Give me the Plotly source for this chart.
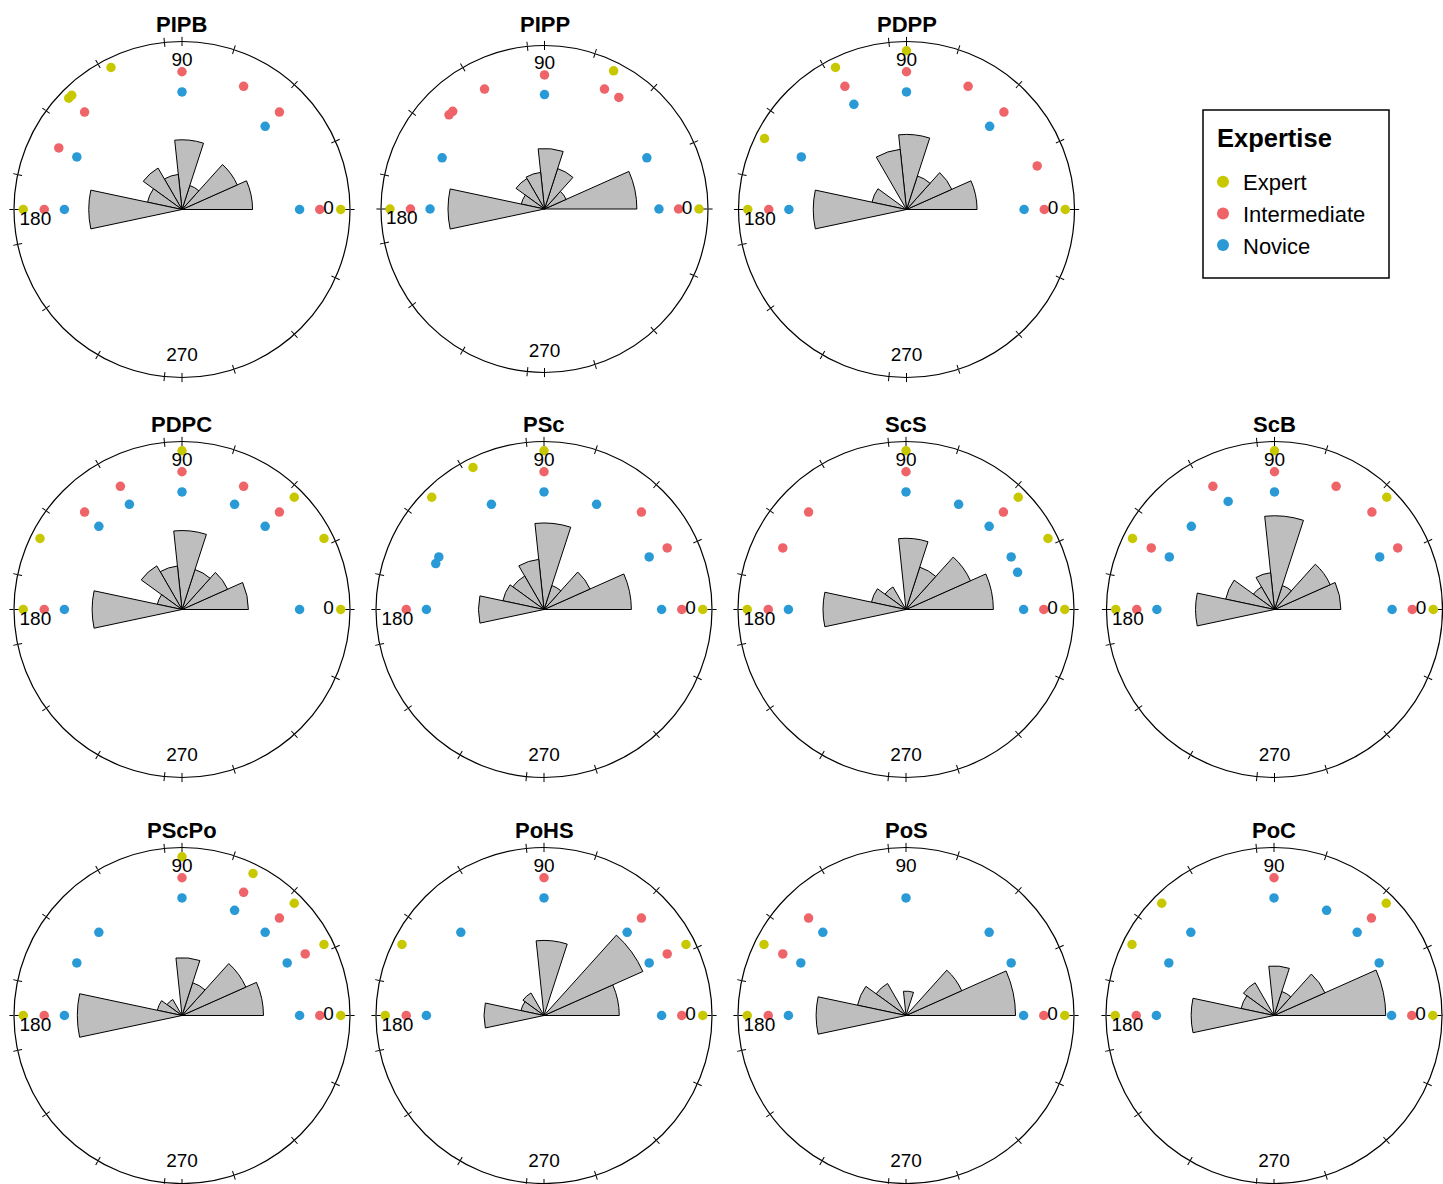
import plotly.graph_objects as go

# ---------------------------------------------------------------------------
# Data
# ---------------------------------------------------------------------------
PANEL_NAMES = ["PIPB", "PIPP", "PDPP", "PDPC", "PSc", "ScS", "ScB",
               "PScPo", "PoHS", "PoS", "PoC"]
GROUPS = ["Expert", "Intermediate", "Novice"]
ANGLE_LABELS = ["0", "90", "180", "270"]
ANGLE_LABEL_THETA = [0, 90, 180, 270]

# rose diagram: 24-degree bins starting at 0 (bins beyond 192 are empty)
BIN_WIDTH = 24
BIN_CENTRES = [12, 36, 60, 84, 108, 132, 156, 180]

PIPB_ROSE = [0.42, 0.36, 0.15, 0.415, 0.21, 0.285, 0.21, 0.555]
PIPB_EXPERT = [0, 116.57, 134, 135.5, 180]
PIPB_INTER = [0, 45, 63.43, 90, 135, 153.43, 180]
PIPB_NOVICE = [0, 45, 90, 153.43, 180]

PIPP_ROSE = [0.565, 0.145, 0.26, 0.37, 0.225, 0.215, 0.145, 0.59]
PIPP_EXPERT = [0, 63.43, 180]
PIPP_INTER = [0, 56.31, 63.43, 90, 116.57, 133.2, 135.4, 180]
PIPP_NOVICE = [0, 26.57, 90, 153.43, 180]

PDPP_ROSE = [0.42, 0.295, 0.21, 0.447, 0.36, 0.0, 0.21, 0.555]
PDPP_EXPERT = [0, 90, 116.57, 153.43, 180]
PDPP_INTER = [0, 18.43, 45, 63.43, 90, 116.57, 180]
PDPP_NOVICE = [0, 45, 90, 116.57, 153.43, 180]

PDPC_ROSE = [0.395, 0.297, 0.25, 0.47, 0.26, 0.30, 0.15, 0.535]
PDPC_EXPERT = [0, 26.57, 45, 90, 153.43, 180]
PDPC_INTER = [45, 63.43, 90, 116.57, 135, 180]
PDPC_NOVICE = [0, 45, 63.43, 90, 116.57, 135, 180]

PSC_ROSE = [0.52, 0.30, 0.15, 0.515, 0.30, 0.23, 0.25, 0.39]
PSC_EXPERT = [0, 90, 116.57, 135]
PSC_INTER = [0, 26.57, 45, 90, 180]
PSC_NOVICE = [0, 26.57, 63.43, 90, 116.57, 153.43, 157, 180]

SCS_ROSE = [0.52, 0.42, 0.265, 0.424, 0.0, 0.155, 0.21, 0.494]
SCS_EXPERT = [0, 26.57, 45, 90, 180]
SCS_INTER = [0, 45, 90, 135, 153.43, 180]
SCS_NOVICE = [0, 18.43, 26.57, 45, 63.43, 90, 180]

SCB_ROSE = [0.395, 0.363, 0.15, 0.558, 0.22, 0.155, 0.297, 0.47]
SCB_EXPERT = [0, 45, 90, 153.43, 180]
SCB_INTER = [0, 26.57, 45, 63.43, 90, 116.57, 153.43, 180]
SCB_NOVICE = [0, 26.57, 90, 113.2, 135, 153.43, 180]

PSCPO_ROSE = [0.485, 0.416, 0.205, 0.344, 0.0, 0.11, 0.15, 0.623]
PSCPO_EXPERT = [0, 26.57, 45, 63.43, 90, 180]
PSCPO_INTER = [0, 26.57, 45, 63.43, 90, 180]
PSCPO_NOVICE = [0, 26.57, 45, 63.43, 90, 135, 153.43, 180]

POHS_ROSE = [0.448, 0.644, 0.0, 0.447, 0.0, 0.155, 0.14, 0.357]
POHS_EXPERT = [0, 26.57, 153.43, 180]
POHS_INTER = [0, 26.57, 45, 90, 180]
POHS_NOVICE = [0, 26.57, 45, 90, 135, 180]

POS_ROSE = [0.652, 0.363, 0.0, 0.145, 0.0, 0.22, 0.295, 0.535]
POS_EXPERT = [0, 153.43, 180]
POS_INTER = [0, 135, 153.43, 180]
POS_NOVICE = [0, 26.57, 45, 90, 135, 153.43, 180]

POC_ROSE = [0.665, 0.332, 0.15, 0.295, 0.0, 0.225, 0.2, 0.493]
POC_EXPERT = [0, 45, 135, 153.43, 180]
POC_INTER = [0, 45, 90, 180]
POC_NOVICE = [0, 26.57, 45, 63.43, 90, 135, 153.43, 180]

ROSE = {
    "PIPB": PIPB_ROSE, "PIPP": PIPP_ROSE, "PDPP": PDPP_ROSE, "PDPC": PDPC_ROSE,
    "PSc": PSC_ROSE, "ScS": SCS_ROSE, "ScB": SCB_ROSE, "PScPo": PSCPO_ROSE,
    "PoHS": POHS_ROSE, "PoS": POS_ROSE, "PoC": POC_ROSE,
}
ANGLES = {
    "PIPB": (PIPB_EXPERT, PIPB_INTER, PIPB_NOVICE),
    "PIPP": (PIPP_EXPERT, PIPP_INTER, PIPP_NOVICE),
    "PDPP": (PDPP_EXPERT, PDPP_INTER, PDPP_NOVICE),
    "PDPC": (PDPC_EXPERT, PDPC_INTER, PDPC_NOVICE),
    "PSc": (PSC_EXPERT, PSC_INTER, PSC_NOVICE),
    "ScS": (SCS_EXPERT, SCS_INTER, SCS_NOVICE),
    "ScB": (SCB_EXPERT, SCB_INTER, SCB_NOVICE),
    "PScPo": (PSCPO_EXPERT, PSCPO_INTER, PSCPO_NOVICE),
    "PoHS": (POHS_EXPERT, POHS_INTER, POHS_NOVICE),
    "PoS": (POS_EXPERT, POS_INTER, POS_NOVICE),
    "PoC": (POC_EXPERT, POC_INTER, POC_NOVICE),
}

# ---------------------------------------------------------------------------
# Styling / layout
# ---------------------------------------------------------------------------
W, H = 1443, 1184
FONT = "Arial, Liberation Sans, Helvetica, sans-serif"

COLORS = {"Expert": "#C8C800", "Intermediate": "#EE6468", "Novice": "#2A9AD6"}
RING = {"Expert": 0.945, "Intermediate": 0.82, "Novice": 0.70}
LABEL_R = [0.872, 0.885, 0.875, 0.875]
LABEL_THETA_SHIFT = [0, 0, 4, 0]

# circle ticks every 24 degrees plus the four quarter marks
TICKS = sorted(set(list(range(0, 360, 24)) + [90, 180, 270]))

# centre x, centre y, radius (pixels)
PANEL_BOX = {
    "PIPB": (182, 209.5, 168), "PIPP": (544.5, 209, 163.5), "PDPP": (906.5, 209.5, 168),
    "PDPC": (182, 609.5, 168), "PSc": (544, 609.5, 168), "ScS": (906, 609.5, 168),
    "ScB": (1274.5, 609.5, 168),
    "PScPo": (182, 1015.5, 168), "PoHS": (544, 1015.5, 168), "PoS": (906, 1015.5, 168),
    "PoC": (1274, 1015.5, 168),
}
TITLE_Y = {"PIPB": 24, "PIPP": 24, "PDPP": 24,
           "PDPC": 424, "PSc": 424, "ScS": 424, "ScB": 424,
           "PScPo": 830, "PoHS": 830, "PoS": 830, "PoC": 830}


def angular(ticks_dir, show_line):
    return dict(
        rotation=0, direction="counterclockwise",
        showline=show_line, linecolor="black", linewidth=1.2,
        showgrid=False, ticks=ticks_dir, ticklen=4, tickwidth=1, tickcolor="black",
        tickmode="array", tickvals=TICKS, showticklabels=False,
    )


fig = go.Figure()
polar_layout = {}
annotations = []
n = len(PANEL_NAMES)

for i, name in enumerate(PANEL_NAMES):
    pid = "polar" if i == 0 else f"polar{i + 1}"
    tid = f"polar{i + 1 + n}"
    cx, cy, R = PANEL_BOX[name]
    dom = dict(
        x=[max(0, (cx - R) / W), min(1, (cx + R) / W)],
        y=[max(0, 1 - (cy + R) / H), min(1, 1 - (cy - R) / H)],
    )

    rose = ROSE[name]
    fig.add_trace(go.Barpolar(
        r=rose, theta=BIN_CENTRES[:len(rose)], width=[BIN_WIDTH] * len(rose),
        marker=dict(color="#BEBEBE", line=dict(color="black", width=1)),
        subplot=pid, showlegend=False, hoverinfo="skip",
    ))
    for g, th in zip(GROUPS, ANGLES[name]):
        fig.add_trace(go.Scatterpolar(
            r=[RING[g]] * len(th), theta=th, mode="markers",
            marker=dict(size=9.5, color=COLORS[g]),
            name=g, showlegend=(i == 0), subplot=pid, cliponaxis=False,
        ))
    fig.add_trace(go.Scatterpolar(
        r=LABEL_R,
        theta=[t + s for t, s in zip(ANGLE_LABEL_THETA, LABEL_THETA_SHIFT)],
        mode="text", text=ANGLE_LABELS,
        textfont=dict(size=19, color="black", family=FONT),
        subplot=pid, showlegend=False, hoverinfo="skip", cliponaxis=False,
    ))
    # second layer carrying the inner half of each circle tick
    fig.add_trace(go.Scatterpolar(r=[], theta=[], subplot=tid, showlegend=False,
                                  hoverinfo="skip"))

    polar_layout[pid] = dict(
        domain=dom, bgcolor="rgba(0,0,0,0)",
        radialaxis=dict(range=[0, 1], visible=False),
        angularaxis=angular("outside", True),
    )
    polar_layout[tid] = dict(
        domain=dom, bgcolor="rgba(0,0,0,0)",
        radialaxis=dict(range=[0, 1], visible=False),
        angularaxis=angular("inside", False),
    )

    annotations.append(dict(
        x=cx / W, y=1 - TITLE_Y[name] / H, xref="paper", yref="paper",
        text=f"<b>{name}</b>", showarrow=False, xanchor="center", yanchor="middle",
        font=dict(size=22, color="black", family=FONT),
    ))

# legend frame and heading
annotations.append(dict(
    x=1215 / W, y=1 - 138 / H, xref="paper", yref="paper",
    text="<b>Expertise</b>", showarrow=False, xanchor="left", yanchor="middle",
    font=dict(size=25.5, color="black", family=FONT),
))
shapes = [dict(
    type="rect", xref="paper", yref="paper",
    x0=1203 / W, x1=1389 / W, y0=1 - 278 / H, y1=1 - 110 / H,
    line=dict(color="black", width=1.5), fillcolor="rgba(0,0,0,0)",
)]

fig.update_layout(
    width=W, height=H,
    margin=dict(l=0, r=0, t=0, b=0),
    paper_bgcolor="white", plot_bgcolor="white",
    font=dict(family=FONT, color="black"),
    showlegend=True,
    legend=dict(
        x=1203 / W, y=1 - 161 / H, xanchor="left", yanchor="top",
        font=dict(size=22, color="black", family=FONT),
        bgcolor="rgba(0,0,0,0)", borderwidth=0,
        itemsizing="constant", tracegroupgap=0,
    ),
    annotations=annotations,
    shapes=shapes,
    **polar_layout,
)

fig.write_html("out.html")
